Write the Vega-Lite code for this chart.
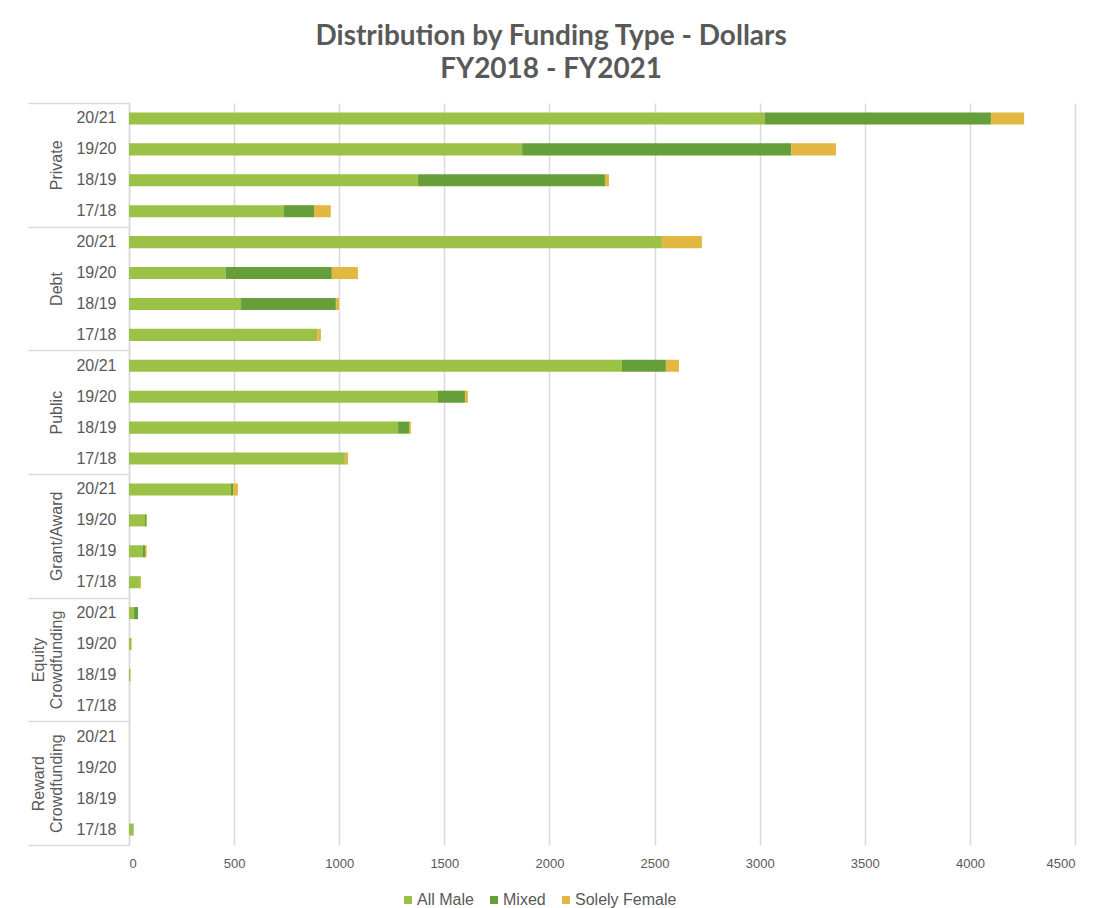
{
  "$schema": "https://vega.github.io/schema/vega-lite/v6.json",
  "width": 946,
  "height": 742,
  "padding": {"left": 27, "top": 23, "right": 30, "bottom": 0},
  "autosize": {"type": "pad"},
  "background": "white",
  "title": {
    "text": ["Distribution by Funding Type - Dollars", "FY2018 - FY2021"],
    "font": "Lato", "fontSize": 28, "fontWeight": "bold", "color": "#595959",
    "lineHeight": 33, "anchor": "middle", "frame": "bounds", "offset": 18
  },
  "config": {"view": {"stroke": null}, "font": "Liberation Sans"},
  "data": {"values": [
    {"group": "Private", "key": "Private|20/21", "cat": "All Male", "v": 3025},
    {"group": "Private", "key": "Private|20/21", "cat": "Mixed", "v": 1075},
    {"group": "Private", "key": "Private|20/21", "cat": "Solely Female", "v": 158},
    {"group": "Private", "key": "Private|19/20", "cat": "All Male", "v": 1870},
    {"group": "Private", "key": "Private|19/20", "cat": "Mixed", "v": 1280},
    {"group": "Private", "key": "Private|19/20", "cat": "Solely Female", "v": 213},
    {"group": "Private", "key": "Private|18/19", "cat": "All Male", "v": 1375},
    {"group": "Private", "key": "Private|18/19", "cat": "Mixed", "v": 889},
    {"group": "Private", "key": "Private|18/19", "cat": "Solely Female", "v": 19},
    {"group": "Private", "key": "Private|17/18", "cat": "All Male", "v": 737},
    {"group": "Private", "key": "Private|17/18", "cat": "Mixed", "v": 143},
    {"group": "Private", "key": "Private|17/18", "cat": "Solely Female", "v": 80},
    {"group": "Debt", "key": "Debt|20/21", "cat": "All Male", "v": 2535},
    {"group": "Debt", "key": "Debt|20/21", "cat": "Mixed", "v": 0},
    {"group": "Debt", "key": "Debt|20/21", "cat": "Solely Female", "v": 190},
    {"group": "Debt", "key": "Debt|19/20", "cat": "All Male", "v": 461},
    {"group": "Debt", "key": "Debt|19/20", "cat": "Mixed", "v": 504},
    {"group": "Debt", "key": "Debt|19/20", "cat": "Solely Female", "v": 124},
    {"group": "Debt", "key": "Debt|18/19", "cat": "All Male", "v": 533},
    {"group": "Debt", "key": "Debt|18/19", "cat": "Mixed", "v": 451},
    {"group": "Debt", "key": "Debt|18/19", "cat": "Solely Female", "v": 15},
    {"group": "Debt", "key": "Debt|17/18", "cat": "All Male", "v": 895},
    {"group": "Debt", "key": "Debt|17/18", "cat": "Mixed", "v": 0},
    {"group": "Debt", "key": "Debt|17/18", "cat": "Solely Female", "v": 18},
    {"group": "Public", "key": "Public|20/21", "cat": "All Male", "v": 2345},
    {"group": "Public", "key": "Public|20/21", "cat": "Mixed", "v": 209},
    {"group": "Public", "key": "Public|20/21", "cat": "Solely Female", "v": 62},
    {"group": "Public", "key": "Public|19/20", "cat": "All Male", "v": 1470},
    {"group": "Public", "key": "Public|19/20", "cat": "Mixed", "v": 128},
    {"group": "Public", "key": "Public|19/20", "cat": "Solely Female", "v": 14},
    {"group": "Public", "key": "Public|18/19", "cat": "All Male", "v": 1280},
    {"group": "Public", "key": "Public|18/19", "cat": "Mixed", "v": 52},
    {"group": "Public", "key": "Public|18/19", "cat": "Solely Female", "v": 9},
    {"group": "Public", "key": "Public|17/18", "cat": "All Male", "v": 1023},
    {"group": "Public", "key": "Public|17/18", "cat": "Mixed", "v": 3},
    {"group": "Public", "key": "Public|17/18", "cat": "Solely Female", "v": 16},
    {"group": "Grant/Award", "key": "Grant/Award|20/21", "cat": "All Male", "v": 485},
    {"group": "Grant/Award", "key": "Grant/Award|20/21", "cat": "Mixed", "v": 10},
    {"group": "Grant/Award", "key": "Grant/Award|20/21", "cat": "Solely Female", "v": 23},
    {"group": "Grant/Award", "key": "Grant/Award|19/20", "cat": "All Male", "v": 76},
    {"group": "Grant/Award", "key": "Grant/Award|19/20", "cat": "Mixed", "v": 8},
    {"group": "Grant/Award", "key": "Grant/Award|19/20", "cat": "Solely Female", "v": 2},
    {"group": "Grant/Award", "key": "Grant/Award|18/19", "cat": "All Male", "v": 66},
    {"group": "Grant/Award", "key": "Grant/Award|18/19", "cat": "Mixed", "v": 10},
    {"group": "Grant/Award", "key": "Grant/Award|18/19", "cat": "Solely Female", "v": 8},
    {"group": "Grant/Award", "key": "Grant/Award|17/18", "cat": "All Male", "v": 52},
    {"group": "Grant/Award", "key": "Grant/Award|17/18", "cat": "Mixed", "v": 0},
    {"group": "Grant/Award", "key": "Grant/Award|17/18", "cat": "Solely Female", "v": 5},
    {"group": "Equity Crowdfunding", "key": "Equity Crowdfunding|20/21", "cat": "All Male", "v": 24},
    {"group": "Equity Crowdfunding", "key": "Equity Crowdfunding|20/21", "cat": "Mixed", "v": 19},
    {"group": "Equity Crowdfunding", "key": "Equity Crowdfunding|20/21", "cat": "Solely Female", "v": 0},
    {"group": "Equity Crowdfunding", "key": "Equity Crowdfunding|19/20", "cat": "All Male", "v": 10},
    {"group": "Equity Crowdfunding", "key": "Equity Crowdfunding|19/20", "cat": "Mixed", "v": 0},
    {"group": "Equity Crowdfunding", "key": "Equity Crowdfunding|19/20", "cat": "Solely Female", "v": 3},
    {"group": "Equity Crowdfunding", "key": "Equity Crowdfunding|18/19", "cat": "All Male", "v": 6},
    {"group": "Equity Crowdfunding", "key": "Equity Crowdfunding|18/19", "cat": "Mixed", "v": 0},
    {"group": "Equity Crowdfunding", "key": "Equity Crowdfunding|18/19", "cat": "Solely Female", "v": 2},
    {"group": "Equity Crowdfunding", "key": "Equity Crowdfunding|17/18", "cat": "All Male", "v": 0},
    {"group": "Equity Crowdfunding", "key": "Equity Crowdfunding|17/18", "cat": "Mixed", "v": 0},
    {"group": "Equity Crowdfunding", "key": "Equity Crowdfunding|17/18", "cat": "Solely Female", "v": 0},
    {"group": "Reward Crowdfunding", "key": "Reward Crowdfunding|20/21", "cat": "All Male", "v": 0},
    {"group": "Reward Crowdfunding", "key": "Reward Crowdfunding|20/21", "cat": "Mixed", "v": 0},
    {"group": "Reward Crowdfunding", "key": "Reward Crowdfunding|20/21", "cat": "Solely Female", "v": 0},
    {"group": "Reward Crowdfunding", "key": "Reward Crowdfunding|19/20", "cat": "All Male", "v": 0},
    {"group": "Reward Crowdfunding", "key": "Reward Crowdfunding|19/20", "cat": "Mixed", "v": 0},
    {"group": "Reward Crowdfunding", "key": "Reward Crowdfunding|19/20", "cat": "Solely Female", "v": 0},
    {"group": "Reward Crowdfunding", "key": "Reward Crowdfunding|18/19", "cat": "All Male", "v": 0},
    {"group": "Reward Crowdfunding", "key": "Reward Crowdfunding|18/19", "cat": "Mixed", "v": 0},
    {"group": "Reward Crowdfunding", "key": "Reward Crowdfunding|18/19", "cat": "Solely Female", "v": 0},
    {"group": "Reward Crowdfunding", "key": "Reward Crowdfunding|17/18", "cat": "All Male", "v": 20},
    {"group": "Reward Crowdfunding", "key": "Reward Crowdfunding|17/18", "cat": "Mixed", "v": 2},
    {"group": "Reward Crowdfunding", "key": "Reward Crowdfunding|17/18", "cat": "Solely Female", "v": 0}
  ]},
  "layer": [
    {
      "mark": {"type": "bar"},
      "encoding": {
        "y": {
          "field": "key", "type": "nominal", "sort": null,
          "scale": {"paddingInner": 0.61, "paddingOuter": 0.305},
          "axis": {
            "orient": "left", "title": null,
            "labelExpr": "split(datum.value, '|')[1]",
            "ticks": false, "domain": true, "domainColor": "#d9d9d9", "domainWidth": 1.5,
            "labelPadding": 13, "labelFont": "Liberation Sans", "labelFontSize": 16,
            "labelColor": "#595959", "grid": false
          }
        },
        "x": {
          "field": "v", "type": "quantitative", "stack": "zero",
          "scale": {"domain": [0, 4500], "nice": false},
          "axis": {
            "title": null, "values": [0, 500, 1000, 1500, 2000, 2500, 3000, 3500, 4000, 4500],
            "format": "d",
            "grid": true, "gridColor": "#d9d9d9", "gridWidth": 1.5,
            "domain": false, "ticks": false,
            "labelFont": "Liberation Sans", "labelFontSize": 13, "labelColor": "#595959", "labelPadding": 12
          }
        },
        "color": {
          "field": "cat", "type": "nominal",
          "scale": {"domain": ["All Male", "Mixed", "Solely Female"], "range": ["#9BC147", "#669E3A", "#E2B842"]},
          "legend": {
            "orient": "none", "legendX": 271, "legendY": 789, "direction": "horizontal",
            "title": null, "symbolType": "square", "symbolSize": 64, "symbolStrokeWidth": 0,
            "labelFont": "Liberation Sans", "labelFontSize": 16, "labelColor": "#595959",
            "labelOffset": 1, "columnPadding": 12
          }
        }
      }
    },
    {
      "mark": {"type": "rect", "opacity": 0},
      "encoding": {
        "y": {
          "field": "group", "type": "nominal", "sort": null,
          "scale": {"paddingInner": 0, "paddingOuter": 0},
          "axis": {
            "orient": "left", "title": null, "domain": false,
            "ticks": true, "tickBand": "extent", "tickSize": 101, "tickColor": "#d9d9d9", "tickWidth": 1.5,
            "labelExpr": "isString(datum.value) ? split(datum.value, ' ') : ''",
            "labelAngle": 270, "labelAlign": "center", "labelBaseline": "bottom",
            "labelPadding": {"condition": {"test": "isString(datum.value) && indexof(datum.value, ' ') > 0", "value": -18}, "value": -36},
            "labelFont": "Liberation Sans", "labelFontSize": 16,
            "labelColor": "#595959", "labelLineHeight": 18, "labelBound": false, "labelOverlap": false
          }
        }
      }
    }
  ],
  "resolve": {"scale": {"y": "independent"}}
}
